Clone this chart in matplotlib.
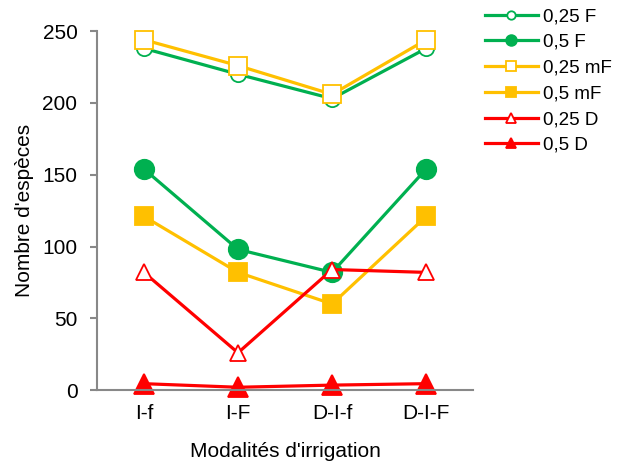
import matplotlib
matplotlib.use("Agg")
import matplotlib.pyplot as plt

plt.rcParams['font.family'] = ['Liberation Sans', 'DejaVu Sans']

categories = ["I-f", "I-F", "D-I-f", "D-I-F"]
f025 = [238, 220, 203, 238]
f05 = [154, 98, 82, 154]
mf025 = [244, 226, 206, 244]
mf05 = [121, 82, 60, 121]
d025 = [82, 26, 84, 82]
d05 = [4.5, 2, 3.5, 4.5]

labels = ["0,25 F", "0,5 F", "0,25 mF", "0,5 mF", "0,25 D", "0,5 D"]

green = "#00B050"
yellow = "#FFC000"
red = "#FF0000"

fig = plt.figure(figsize=(6.17, 4.65), dpi=100)
ax = fig.add_axes([0.157, 0.161, 0.610, 0.772])

x = range(len(categories))
series = [
    (f025, green, 'o', 'none', 11),
    (f05, green, 'o', green, 14),
    (mf025, yellow, 's', 'none', 12.5),
    (mf05, yellow, 's', yellow, 13.5),
    (d025, red, '^', 'none', 12),
    (d05, red, '^', red, 14),
]
handles = []
for (vals, col, mk, fc, ms), lab in zip(series, labels):
    h, = ax.plot(x, vals, color=col, lw=2.3, marker=mk, markersize=ms,
                 markerfacecolor=('white' if fc == 'none' else fc),
                 markeredgecolor=col, markeredgewidth=1.3, label=lab,
                 clip_on=False)
    handles.append(h)

ax.set_xlim(-0.5, 3.5)
ax.set_ylim(0, 250)
ax.set_yticks([0, 50, 100, 150, 200, 250])
ax.set_xticks(list(x))
ax.set_xticklabels(categories)
for s in ['top', 'right']:
    ax.spines[s].set_visible(False)
for s in ['left', 'bottom']:
    ax.spines[s].set_color('#888888')
    ax.spines[s].set_linewidth(1.5)
ax.tick_params(axis='y', length=5, width=1.5, color='#888888', labelsize=15, pad=9)
ax.tick_params(axis='x', length=0, labelsize=15, pad=10)
ax.set_xlabel("Modalités d'irrigation", fontsize=15, labelpad=14)
ax.set_ylabel("Nombre d'espèces", fontsize=15, labelpad=6)

leg = fig.legend(handles=handles, labels=labels, loc='upper left',
                 bbox_to_anchor=(485 / 617, 1 - 8 / 465), frameon=False, fontsize=13.5,
                 markerscale=0.55, handlelength=2.8, handletextpad=0.3,
                 labelspacing=0.46, borderaxespad=0, borderpad=0)

fig.savefig("out.png", dpi=100)
